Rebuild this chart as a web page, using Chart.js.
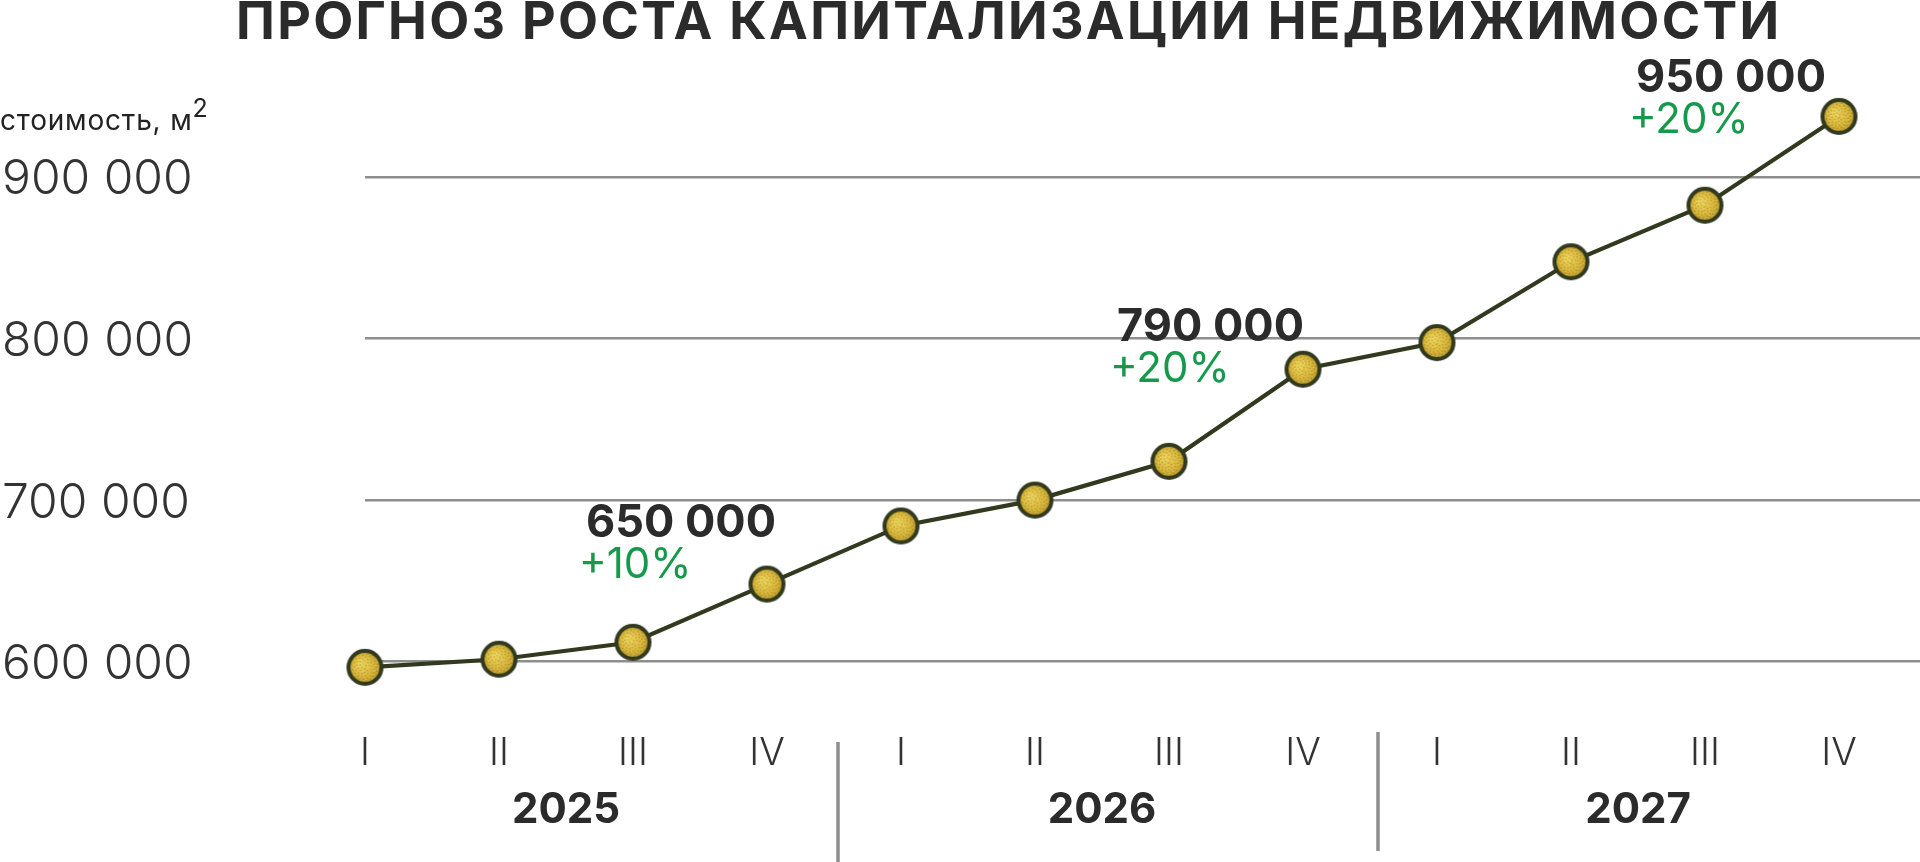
<!DOCTYPE html>
<html>
<head>
<meta charset="utf-8">
<script src="https://cdn.jsdelivr.net/npm/chart.js@4/dist/chart.umd.min.js"></script>
<style>
  body { margin: 0; background: #fff; overflow: hidden; }
  #wrap { position: relative; width: 1920px; height: 862px; }
  #title {
    position: absolute; left: 236px; top: -5px;
    font: 700 52px Inter, sans-serif; line-height: 1; letter-spacing: 2.3px;
    color: #2b2b2b; white-space: nowrap;
  }
  #unit {
    position: absolute; left: 0px; top: 106px;
    font: 400 28px Inter, sans-serif; line-height: 1; letter-spacing: 0.8px;
    color: #222; white-space: nowrap;
  }
  #unit span { font-size: 25px; position: relative; top: -13px; letter-spacing: 0; }
</style>
</head>
<body>
<div id="wrap">
  <canvas id="chart"></canvas>
  <div id="title">ПРОГНОЗ РОСТА КАПИТАЛИЗАЦИИ НЕДВИЖИМОСТИ</div>
  <div id="unit">стоимость, м<span>2</span></div>
</div>
<script>
// quarters and years on the x axis
var quarters = ['I', 'II', 'III', 'IV', 'I', 'II', 'III', 'IV', 'I', 'II', 'III', 'IV'];
var years = ['2025', '2026', '2027'];

// price per m2
var prices = [596500, 601500, 612000, 648000, 684000, 700000, 724000, 781000, 797500, 847500, 882500, 937500];

// y axis ticks
var yTicks = [600000, 700000, 800000, 900000];

// callouts: which point, value text, growth text
var calloutIndex = [3, 7, 11];
var calloutValue = ['650 000', '790 000', '950 000'];
var calloutGrowth = ['+10%', '+20%', '+20%'];

var lineColor = '#313a1f';
var gridColor = '#8e8e8e';

function fmt(v) {
  return String(v).replace(/\B(?=(\d{3})+(?!\d))/g, ' ');
}

// gold dot with dark rim, used as the point style
function makeDot() {
  var r = 16.5, bw = 4;
  var size = Math.ceil((r + bw / 2) * 2) + 2;
  var c = document.createElement('canvas');
  c.width = c.height = size;
  var g = c.getContext('2d');
  var m = size / 2;
  var grad = g.createRadialGradient(m - 4, m - 4, 2, m, m, r);
  grad.addColorStop(0, '#ecd25a');
  grad.addColorStop(0.6, '#d8b73a');
  grad.addColorStop(1, '#b8962a');
  g.fillStyle = grad;
  g.beginPath();
  g.arc(m, m, r, 0, Math.PI * 2);
  g.fill();
  // grainy look
  g.fillStyle = 'rgba(130,100,20,0.45)';
  for (var i = 0; i < 70; i++) {
    var a = i * 2.39996, d = Math.sqrt(i / 70) * r * 0.92;
    g.fillRect(m + Math.cos(a) * d, m + Math.sin(a) * d, 1.3, 1.3);
  }
  g.fillStyle = 'rgba(255,240,150,0.5)';
  for (var j = 0; j < 40; j++) {
    var a2 = j * 2.39996 + 1.1, d2 = Math.sqrt(j / 40) * r * 0.85;
    g.fillRect(m + Math.cos(a2) * d2, m + Math.sin(a2) * d2, 1, 1);
  }
  g.beginPath();
  g.arc(m, m, r, 0, Math.PI * 2);
  g.lineWidth = bw;
  g.strokeStyle = lineColor;
  g.stroke();
  return c;
}

var xMax = (quarters.length - 1) * 1555 / 1474;

// vertical separators between years
var separators = {
  id: 'separators',
  afterDraw: function(chart) {
    var ctx = chart.ctx, x = chart.scales.x, bottom = chart.chartArea.bottom;
    ctx.save();
    ctx.strokeStyle = gridColor;
    ctx.lineWidth = 3.5;
    [3.53, 7.56].forEach(function(v, k) {
      var px = Math.round(x.getPixelForValue(v));
      ctx.beginPath();
      ctx.moveTo(px, bottom + (k == 0 ? 12 : 2));
      ctx.lineTo(px, bottom + (k == 0 ? 132 : 121));
      ctx.stroke();
    });
    ctx.restore();
  }
};

// offsets of callout text from its point
var calloutOffsets = [[-181, -61], [-186, -42], [-203, -38]];

var callouts = {
  id: 'callouts',
  afterDraw: function(chart) {
    var ctx = chart.ctx;
    var meta = chart.getDatasetMeta(0);
    ctx.save();
    ctx.textAlign = 'left';
    ctx.textBaseline = 'middle';
    for (var i = 0; i < calloutIndex.length; i++) {
      var p = meta.data[calloutIndex[i]];
      var x = p.x + calloutOffsets[i][0];
      var y = p.y + calloutOffsets[i][1];
      ctx.fillStyle = '#2b2b2b';
      ctx.font = '700 45px Inter, sans-serif';
      ctx.fillText(calloutValue[i], x, y);
      ctx.fillStyle = '#17994b';
      ctx.font = '400 42px Inter, sans-serif';
      ctx.fillText(calloutGrowth[i], x - 7, y + 42);
    }
    ctx.restore();
  }
};

var pts = prices.map(function(v, i) { return { x: i, y: v }; });

new Chart(document.getElementById('chart'), {
  type: 'line',
  data: {
    datasets: [{
      data: pts,
      borderColor: lineColor,
      borderWidth: 4.2,
      pointStyle: makeDot(),
      pointRadius: 18,
      pointHoverRadius: 18,
      tension: 0,
      clip: false
    }]
  },
  options: {
    responsive: true,
    maintainAspectRatio: false,
    animation: false,
    layout: { autoPadding: false, padding: { top: 60, right: 0, left: 2, bottom: 0 } },
    plugins: { legend: { display: false }, tooltip: { enabled: false } },
    scales: {
      x: {
        type: 'linear',
        position: 'bottom',
        min: 0,
        max: xMax,
        grid: { display: false, drawTicks: false },
        border: { display: false },
        afterBuildTicks: function(s) { s.ticks = quarters.map(function(q, i) { return { value: i }; }); },
        afterFit: function(s) { s.height = 50; s.paddingLeft = 0; s.paddingRight = 0; },
        ticks: {
          autoSkip: false,
          maxRotation: 0,
          padding: 1,
          color: '#333',
          font: { family: 'Inter', size: 38, weight: 300 },
          callback: function(v) { return quarters[v]; }
        }
      },
      years: {
        type: 'linear',
        position: 'bottom',
        weight: 1,
        min: 0,
        max: xMax,
        grid: { display: false, drawTicks: false },
        border: { display: false },
        afterBuildTicks: function(s) { s.ticks = years.map(function(y, i) { return { value: 1.5 + i * 4 }; }); },
        afterFit: function(s) { s.height = 82; s.paddingLeft = 0; s.paddingRight = 0; },
        ticks: {
          autoSkip: false,
          maxRotation: 0,
          padding: 5,
          color: '#2b2b2b',
          font: { family: 'Inter', size: 42, weight: 700 },
          callback: function(v) { return years[Math.round((v - 1.5) / 4)]; }
        }
      },
      y: {
        type: 'linear',
        position: 'left',
        min: 557700,
        max: 972400,
        grid: { color: gridColor, lineWidth: 2.5, drawTicks: false },
        border: { display: false },
        afterBuildTicks: function(s) { s.ticks = yTicks.map(function(v) { return { value: v }; }); },
        afterFit: function(s) { s.width = 363; },
        ticks: {
          crossAlign: 'far',
          padding: 0,
          labelOffset: 3,
          color: '#333',
          font: { family: 'Inter', size: 48, weight: 300 },
          callback: function(v) { return fmt(v); }
        }
      }
    }
  },
  plugins: [separators, callouts]
});
</script>
</body>
</html>
